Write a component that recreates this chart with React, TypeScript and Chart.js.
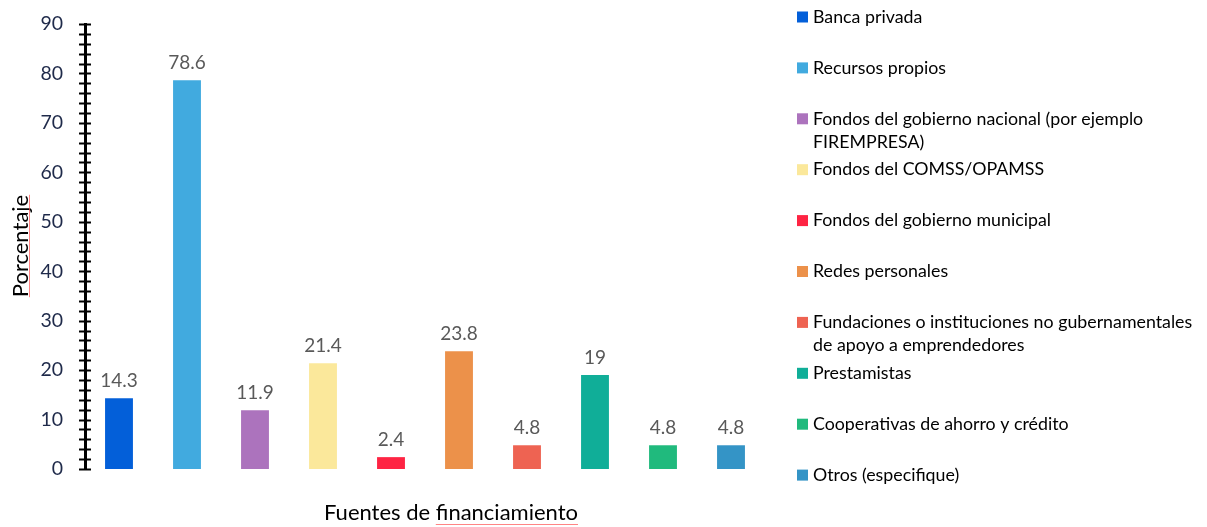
import React, { useEffect, useRef } from "react";
import { Chart, registerables } from "chart.js";

Chart.register(...registerables);

const categories = [
  "Banca privada",
  "Recursos propios",
  "Fondos del gobierno nacional (por ejemplo FIREMPRESA)",
  "Fondos del COMSS/OPAMSS",
  "Fondos del gobierno municipal",
  "Redes personales",
  "Fundaciones o instituciones no gubernamentales de apoyo a emprendedores",
  "Prestamistas",
  "Cooperativas de ahorro y crédito",
  "Otros (especifique)",
];
const values = [14.3, 78.6, 11.9, 21.4, 2.4, 23.8, 4.8, 19, 4.8, 4.8];
const colors = [
  "#035FD9",
  "#41AADF",
  "#AC73BD",
  "#FBE89B",
  "#FE2443",
  "#EC914A",
  "#EE6352",
  "#10AE98",
  "#20BA7D",
  "#3494C6",
];
const yTitle = "Porcentaje";
const xTitle = "Fuentes de financiamiento";
const FONT = "Lato, 'Open Sans', sans-serif";

const overlayPlugin = {
  id: "overlay",
  afterDraw(chart: any) {
    const ctx = chart.ctx;
    const y = chart.scales.y;
    const area = chart.chartArea;
    ctx.save();
    // axis tick marks crossing the axis
    ctx.strokeStyle = "#000";
    ctx.lineWidth = 2;
    y.ticks.forEach((t: any) => {
      const py = Math.round(y.getPixelForValue(t.value)) + 0.5;
      ctx.beginPath();
      ctx.moveTo(area.left - 6, py);
      ctx.lineTo(area.left + 6, py);
      ctx.stroke();
    });
    // data labels
    ctx.font = `19px ${FONT}`;
    ctx.fillStyle = "#595959";
    ctx.textAlign = "center";
    ctx.textBaseline = "alphabetic";
    chart.data.datasets.forEach((ds: any, i: number) => {
      const meta = chart.getDatasetMeta(i);
      meta.data.forEach((bar: any, j: number) => {
        ctx.fillText(String(ds.data[j]), bar.x, bar.y - 11);
      });
    });
    // axis titles
    ctx.fillStyle = "#000";
    ctx.font = `22px ${FONT}`;
    ctx.textAlign = "center";
    ctx.textBaseline = "middle";
    ctx.fillText(xTitle, 451, 513);
    const xw = ctx.measureText(xTitle).width;
    const fw = ctx.measureText("financiamiento").width;
    ctx.save();
    ctx.translate(21, 246);
    ctx.rotate(-Math.PI / 2);
    ctx.fillText(yTitle, 0, 0);
    const yw = ctx.measureText(yTitle).width;
    ctx.restore();
    // spell-check underlines
    ctx.strokeStyle = "rgba(255,80,80,0.7)";
    ctx.lineWidth = 1;
    ctx.beginPath();
    ctx.moveTo(451 + xw / 2 - fw, 524.5);
    ctx.lineTo(451 + xw / 2, 524.5);
    ctx.stroke();
    ctx.beginPath();
    ctx.moveTo(29.5, 246 - yw / 2);
    ctx.lineTo(29.5, 246 + yw / 2);
    ctx.stroke();
    // legend
    const lx = 797;
    const tx = 813;
    const maxW = 384;
    const lineH = 23;
    ctx.font = `17.8px ${FONT}`;
    ctx.textAlign = "left";
    ctx.textBaseline = "middle";
    categories.forEach((label, i) => {
      const cy = 17 + i * 50.9;
      ctx.fillStyle = colors[i];
      ctx.fillRect(lx, cy - 5.5, 11, 11);
      ctx.fillStyle = "#000";
      const words = label.split(" ");
      const lines: string[] = [];
      let cur = "";
      words.forEach((w) => {
        const test = cur ? cur + " " + w : w;
        if (ctx.measureText(test).width > maxW && cur) {
          lines.push(cur);
          cur = w;
        } else cur = test;
      });
      if (cur) lines.push(cur);
      lines.forEach((ln, k) => ctx.fillText(ln, tx, cy + k * lineH));
    });
    ctx.restore();
  },
};

export default function App() {
  const ref = useRef<HTMLCanvasElement>(null);
  useEffect(() => {
    document.body.style.margin = "0";
    const chart = new Chart(ref.current!, {
      type: "bar",
      data: {
        labels: [""],
        datasets: categories.map((c, i) => ({
          label: c,
          data: [values[i]],
          backgroundColor: colors[i],
          borderWidth: 0,
        })),
      },
      options: {
        animation: false,
        responsive: false,
        maintainAspectRatio: false,
        layout: { padding: { top: 24, right: 442, bottom: 0, left: 0 } },
        datasets: {
          bar: { categoryPercentage: 1, barPercentage: 0.41 },
        },
        plugins: {
          legend: { display: false },
          tooltip: { enabled: false },
          title: { display: false },
        },
        scales: {
          x: {
            grid: { display: false },
            border: { display: false },
            ticks: { display: false },
            afterFit: (s: any) => {
              s.height = 58;
              s.paddingLeft = 0;
              s.paddingRight = 0;
            },
          },
          y: {
            min: 0,
            max: 90,
            ticks: {
              stepSize: 2,
              autoSkip: false,
              padding: 22,
              color: "#1F2A4A",
              font: { size: 19.5, family: FONT },
              callback: (v: any) => (Number(v) % 10 === 0 ? String(v) : ""),
            },
            grid: { display: false, drawTicks: false },
            border: { display: true, color: "#000", width: 3 },
            afterFit: (s: any) => {
              s.width = 85;
              s.paddingTop = 0;
              s.paddingBottom = 0;
            },
          },
        },
      },
      plugins: [overlayPlugin],
    });
    return () => chart.destroy();
  }, []);
  return (
    <div style={{ position: "relative", width: 1207, height: 527, background: "#fff" }}>
      <canvas ref={ref} width={1207} height={527} style={{ display: "block" }} />
    </div>
  );
}
